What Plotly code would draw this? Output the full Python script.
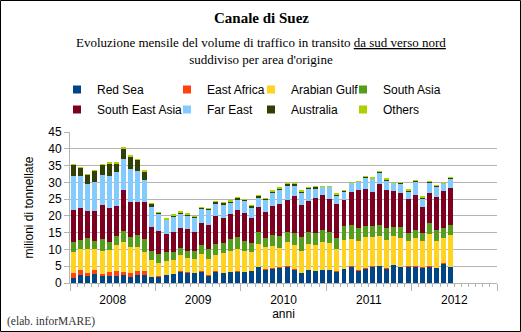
import plotly.graph_objects as go

# ---------------- data (million tonnes, Jan 2008 - Jun 2012) ----------------
years = ["2008", "2009", "2010", "2011", "2012"]
months_per_year = 12

red_sea = [1.5, 2.3, 2.1, 2.7, 2.1, 2.1, 2.1, 2.5, 1.8, 2.4, 2.5, 1.8,
           2.0, 2.4, 2.7, 3.4, 3.2, 3.0, 3.4, 2.3, 3.4, 3.0, 3.3, 3.5,
           3.3, 3.6, 4.8, 4.0, 4.3, 4.6, 4.9, 4.0, 3.0, 3.9, 3.6, 3.9,
           3.9, 3.5, 4.2, 5.0, 3.8, 4.4, 5.0, 5.1, 4.3, 5.4, 4.8, 4.9,
           4.9, 4.7, 5.0, 4.5, 5.9, 4.8]
east_africa = [1.4, 1.7, 0.8, 1.1, 0.6, 1.1, 1.4, 0.8, 1.2, 1.1, 1.0, 0.1,
               0.1, 0.1, 0.1, 0.1, 0.1, 0.1, 0.1, 0.1, 0.2, 0.1, 0.1, 0.1,
               0.1, 0.1, 0.1, 0.1, 0.1, 0.1, 0.1, 0.2, 0.1, 0.1, 0.1, 0.1,
               0.1, 0.1, 0.1, 0.1, 0.1, 0.1, 0.1, 0.1, 0.1, 0.1, 0.1, 0.1,
               0.1, 0.1, 0.1, 0.1, 0.1, 0.1]
arabian_gulf = [6.4, 6.0, 7.3, 6.4, 6.8, 6.5, 7.9, 9.0, 7.8, 7.3, 5.7, 4.9,
                3.8, 4.2, 4.0, 4.8, 4.2, 4.0, 5.1, 4.9, 4.8, 5.8, 6.1, 6.5,
                6.2, 5.4, 6.6, 6.5, 6.5, 5.6, 7.3, 7.1, 6.4, 7.7, 7.6, 8.2,
                7.8, 6.6, 8.4, 8.0, 8.7, 9.3, 8.5, 8.7, 8.3, 8.6, 8.6, 7.4,
                8.3, 7.6, 9.5, 7.9, 7.3, 9.3]
south_asia = [2.9, 2.8, 3.2, 2.3, 3.5, 2.6, 2.6, 3.1, 2.9, 3.5, 3.8, 2.6,
              2.8, 2.6, 2.4, 2.0, 2.0, 2.4, 2.7, 2.9, 3.2, 3.1, 3.5, 3.6,
              2.8, 2.8, 3.6, 2.9, 3.4, 3.8, 3.0, 3.5, 4.1, 3.6, 3.5, 3.7,
              3.5, 3.3, 4.4, 4.1, 3.7, 3.3, 3.3, 3.3, 3.7, 2.7, 3.2, 2.6,
              2.5, 2.5, 3.2, 3.2, 3.2, 3.1]
south_east_asia = [9.6, 9.5, 8.2, 8.9, 10.3, 10.2, 8.8, 12.2, 10.3, 9.9, 11.0, 7.3,
                   6.8, 5.3, 5.9, 6.1, 6.6, 5.6, 6.6, 7.1, 8.3, 7.5, 7.6, 8.1,
                   8.4, 7.6, 7.6, 7.8, 8.6, 9.3, 9.3, 11.0, 9.5, 9.0, 10.5, 10.4,
                   9.7, 10.0, 7.6, 10.0, 11.4, 10.8, 10.3, 12.4, 11.2, 10.5, 10.0, 10.1,
                   10.3, 7.8, 9.1, 10.0, 10.9, 11.1]
far_east = [10.2, 9.5, 7.9, 8.6, 8.9, 9.5, 10.2, 9.4, 10.0, 9.3, 6.7, 6.0,
            5.2, 4.2, 4.8, 4.3, 4.0, 4.4, 4.2, 4.5, 3.9, 3.9, 3.1, 2.9,
            3.5, 3.1, 2.9, 3.6, 4.2, 4.5, 4.5, 3.2, 4.0, 3.8, 3.0, 2.4,
            3.7, 2.7, 2.6, 2.6, 2.4, 3.6, 4.0, 3.3, 3.0, 2.6, 3.0, 2.2,
            4.0, 2.4, 3.0, 3.2, 2.2, 2.8]
australia = [3.3, 2.5, 2.8, 3.5, 3.0, 3.7, 2.7, 3.2, 3.8, 3.3, 2.6, 1.0,
             0.2, 0.2, 0.3, 0.4, 0.4, 0.2, 0.3, 0.4, 0.5, 0.5, 0.7, 0.8,
             0.6, 0.5, 0.5, 0.3, 0.3, 0.4, 0.5, 0.6, 0.3, 0.4, 0.5, 0.0,
             0.0, 0.3, 0.2, 0.2, 0.0, 0.2, 0.0, 0.3, 0.3, 0.0, 0.2, 0.4,
             0.3, 0.5, 0.2, 0.2, 0.0, 0.2]
others = [0.1, 0.1, 0.1, 0.1, 0.2, 0.2, 0.2, 0.2, 0.1, 0.1, 0.1, 0.1,
          0.1, 0.1, 0.1, 0.1, 0.1, 0.1, 0.1, 0.1, 0.1, 0.1, 0.1, 0.1,
          0.1, 0.1, 0.1, 0.1, 0.1, 0.1, 0.1, 0.1, 0.1, 0.1, 0.1, 0.1,
          0.1, 0.1, 0.1, 0.1, 0.1, 0.1, 0.1, 0.1, 0.1, 0.1, 0.1, 0.1,
          0.1, 0.1, 0.1, 0.1, 0.1, 0.1]

series_names = ["Red Sea", "East Africa", "Arabian Gulf", "South Asia",
                "South East Asia", "Far East", "Australia", "Others"]
series_values = [red_sea, east_africa, arabian_gulf, south_asia,
                 south_east_asia, far_east, australia, others]
series_colors = ["#004586", "#ff420e", "#ffd320", "#579d1c",
                 "#7e0021", "#83caff", "#314004", "#aecf00"]

month_index = list(range(len(red_sea)))
n_slots = len(years) * months_per_year

# ---------------- layout helpers (pixel -> paper) ----------------
W, H = 521, 332
L, R, T, B = 70, 24, 132, 49
PW, PH = W - L - R, H - T - B


def px(x):
    return (x - L) / PW


def py(y):
    return (H - B - y) / PH


SANS = "Liberation Sans, Arial, sans-serif"
SERIF = "Liberation Serif, Times New Roman, serif"
GRID = "#b3b3b3"

# legend slot positions (item left px, item top px): 4 columns x 2 rows
col_left = [57, 167, 251, 343]
row_top = [75, 95]

legend_ids = []
legend_layouts = {}
for i in range(len(series_names)):
    lid = "legend" if i == 0 else "legend%d" % (i + 1)
    legend_ids.append(lid)
    legend_layouts[lid] = dict(
        x=px(col_left[i % 4]), y=py(row_top[i // 4]), xanchor="left", yanchor="top",
        orientation="v", bgcolor="rgba(0,0,0,0)", borderwidth=0, itemsizing="trace",
        font=dict(family=SANS, size=12, color="#000"))

fig = go.Figure()
for name, vals, col in zip(series_names, series_values, series_colors):
    fig.add_trace(go.Bar(x=month_index, y=vals, name=name, marker_color=col,
                         marker_line_width=0, showlegend=False))
# legend-only entries with small square keys
for name, col, lg in zip(series_names, series_colors, legend_ids):
    fig.add_trace(go.Scatter(x=[None], y=[None], mode="markers", name=name,
                             marker=dict(symbol="square", size=8, color=col),
                             legend=lg, showlegend=True))

boundaries = [i * months_per_year - 0.5 for i in range(len(years) + 1)]
centers = [i * months_per_year + (months_per_year - 1) / 2 for i in range(len(years))]

fig.update_layout(
    width=W, height=H,
    margin=dict(l=L, r=R, t=T, b=B),
    paper_bgcolor="white", plot_bgcolor="white",
    barmode="stack", bargap=0.3,
    font=dict(family=SANS, size=12, color="#000"),
    xaxis=dict(range=[-0.5, n_slots - 0.5], tickmode="array", tickvals=centers,
               ticktext=years, ticks="", showgrid=False, zeroline=False,
               showline=True, linecolor=GRID, linewidth=1,
               ticklabelstandoff=6,
               tickfont=dict(family=SANS, size=12, color="#000"),
               minor=dict(tick0=-0.5, dtick=1, ticks="outside", ticklen=3,
                          tickcolor=GRID, showgrid=False),
               title=dict(text="anni", font=dict(family=SANS, size=12, color="#000"),
                          standoff=3)),
    xaxis2=dict(range=[-0.5, n_slots - 0.5], overlaying="x", anchor="y", side="bottom",
                tickmode="array", tickvals=boundaries, ticktext=[""] * len(boundaries),
                ticks="outside", ticklen=7, tickcolor=GRID, showgrid=False,
                zeroline=False, showline=False),
    yaxis=dict(range=[0, 45], tickmode="linear", tick0=0, dtick=5,
               showgrid=True, gridcolor=GRID, gridwidth=1, zeroline=False,
               showline=True, linecolor=GRID, linewidth=1,
               ticks="outside", ticklen=5, tickcolor=GRID,
               tickfont=dict(family=SANS, size=12, color="#000"),
               title=dict(text="milioni di tonnellate",
                          font=dict(family=SANS, size=12, color="#000"), standoff=12)),
    showlegend=True,
    **legend_layouts,
)

fig.add_trace(go.Bar(x=[], y=[], xaxis="x2", showlegend=False))

fig.add_annotation(text="<b>Canale di Suez</b>", x=px(261), y=py(18), xref="paper", yref="paper",
                   xanchor="center", yanchor="middle", showarrow=False,
                   font=dict(family=SERIF, size=15, color="#000"))
fig.add_annotation(text="Evoluzione mensile del volume di traffico in transito <u>da sud verso nord</u><br>suddiviso per area d'origine",
                   x=px(261), y=py(50.5), xref="paper", yref="paper",
                   xanchor="center", yanchor="middle", showarrow=False,
                   font=dict(family=SERIF, size=13, color="#000"))
fig.add_annotation(text="(elab. inforMARE)", x=px(5), y=py(321), xref="paper", yref="paper",
                   xanchor="left", yanchor="middle", showarrow=False,
                   font=dict(family=SERIF, size=11.5, color="#333"))

fig.add_shape(type="rect", xref="paper", yref="paper",
              x0=px(0.5), x1=px(520.5), y0=py(331.5), y1=py(0.5),
              line=dict(color="#000", width=1), fillcolor="rgba(0,0,0,0)", layer="above")

fig.write_html("out.html")
